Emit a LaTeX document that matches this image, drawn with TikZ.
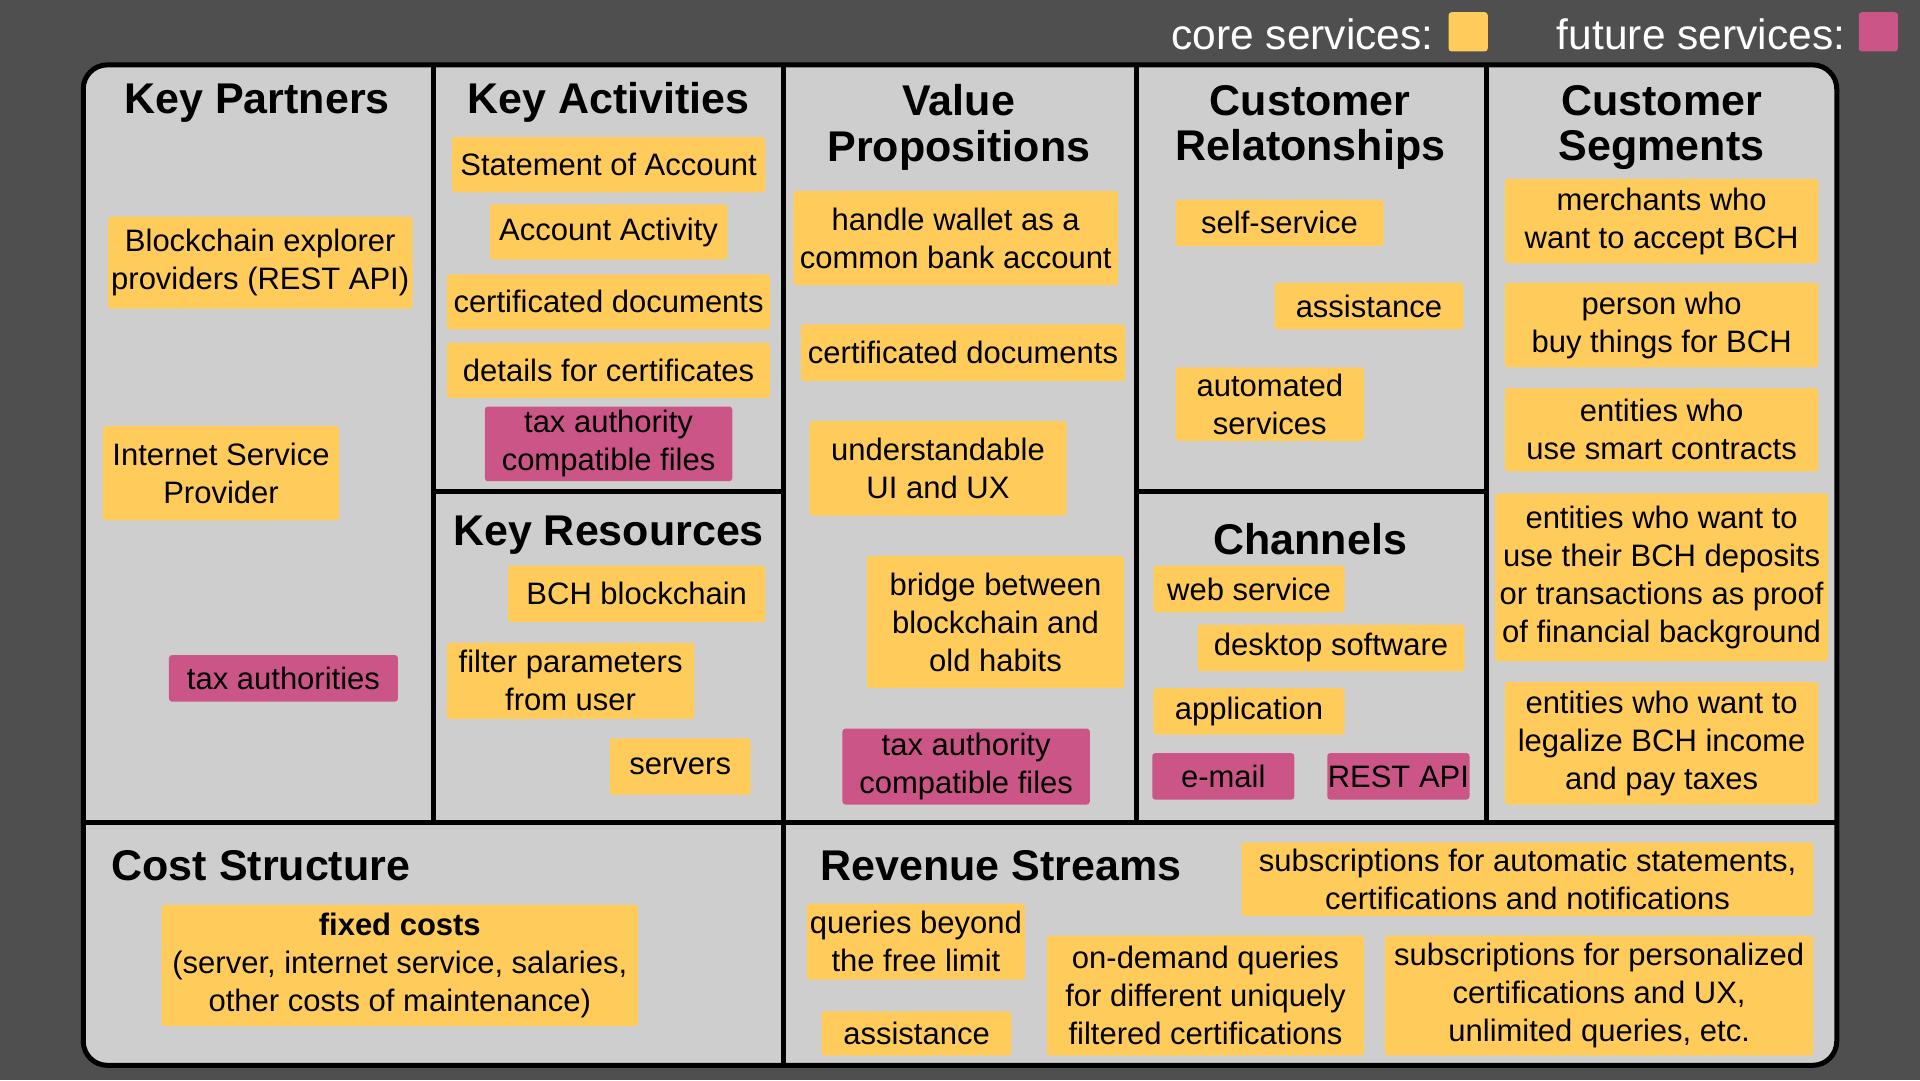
\documentclass[tikz,border=0pt]{standalone}
\usepackage{fontspec}
\setmainfont{Liberation Sans}
\definecolor{bgc}{RGB}{79,79,79}
\definecolor{panel}{RGB}{206,206,206}
\definecolor{corec}{RGB}{255,204,92}
\definecolor{futc}{RGB}{204,85,136}
\newcommand\card[7]{\node[#2, minimum width={(#5-(#3))*1.2245pt}, minimum height={(#6-(#4))*1.2245pt}] (#1) at ({(#3+#5)/2},{(#4+#6)/2}) {#7};}
\tikzset{
  cardbase/.style={rectangle, rounded corners=3pt, inner sep=0.5pt, align=center, text=black, font=\fontsize{31}{38}\selectfont},
  cs/.style={cardbase, fill=corec},
  fs/.style={cardbase, fill=futc},
  ttl/.style={inner sep=0pt, align=center, font=\bfseries\fontsize{43}{45.5}\selectfont},
  leg/.style={inner sep=0pt, text=white, font=\fontsize{42.5}{46}\selectfont},
  grid/.style={line width=5pt, black},
}
\begin{document}
\begin{tikzpicture}[x=1.2245pt,y=-1.2245pt]
\fill[bgc] (0,0) rectangle (1568,882);
\useasboundingbox (0,0) rectangle (1568,882);
% legend
\node[leg, anchor=east] (lcore) at (1171,28) {core services:};
\node[fill=corec, rounded corners=3pt, minimum width={32*1.2245pt}, minimum height={32*1.2245pt}, inner sep=0pt] (lcoresq) at (1199,26) {};
\node[leg, anchor=east] (lfut) at (1507,28) {future services:};
\node[fill=futc, rounded corners=3pt, minimum width={32*1.2245pt}, minimum height={32*1.2245pt}, inner sep=0pt] (lfutsq) at (1534,26) {};
% frame
\filldraw[grid, fill=panel, rounded corners=24pt] (68,53) rectangle (1500,870);
\draw[grid] (354,53) -- (354,672);
\draw[grid] (640,53) -- (640,870);
\draw[grid] (928,53) -- (928,672);
\draw[grid] (1214,53) -- (1214,672);
\draw[grid] (68,672) -- (1500,672);
\draw[grid] (354,401) -- (640,401);
\draw[grid] (928,401) -- (1214,401);
% titles
\node[ttl] (tkp) at (210,84) {Key Partners};
\node[ttl] (tka) at (497,84) {Key Activities};
\node[ttl] (tvp) at (783,104) {Value\\Propositions};
\node[ttl] (tcr) at (1070,104) {Customer\\Relatonships};
\node[ttl] (tcs) at (1357,104) {Customer\\Segments};
\node[ttl] (tkr) at (497,437) {Key Resources};
\node[ttl] (tch) at (1070,440) {Channels};
\node[ttl, anchor=west] (tcost) at (91,707) {Cost Structure};
\node[ttl, anchor=west] (trev) at (670,707) {Revenue Streams};
% key partners
\card{kp1}{cs}{88}{177}{337}{252}{Blockchain explorer\\providers (REST API)}
\card{kp2}{cs}{84}{348}{277}{425}{Internet Service\\Provider}
\card{kp3}{fs}{138}{535}{325}{573}{tax authorities}
% key activities
\card{ka1}{cs}{369}{112}{625}{157}{Statement of Account}
\card{ka2}{cs}{400}{167}{594}{212}{Account Activity}
\card{ka3}{cs}{365}{224}{629}{269}{certificated documents}
\card{ka4}{cs}{365}{280}{629}{325}{details for certificates}
\card{ka5}{fs}{396}{332}{598}{393}{tax authority\\compatible files}
% key resources
\card{kr1}{cs}{415}{462}{625}{508}{BCH blockchain}
\card{kr2}{cs}{365}{525}{567}{587}{filter parameters\\from user}
\card{kr3}{cs}{498}{603}{613}{649}{servers}
% value propositions
\card{vp1}{cs}{648}{156}{913}{233}{handle wallet as a\\common bank account}
\card{vp2}{cs}{654}{265}{919}{311}{certificated documents}
\card{vp3}{cs}{661}{344}{871}{421}{understandable\\UI and UX}
\card{vp4}{cs}{708}{454}{918}{562}{bridge between\\blockchain and\\old habits}
\card{vp5}{fs}{688}{595}{890}{657}{tax authority\\compatible files}
% customer relationships
\card{cr1}{cs}{960}{163}{1130}{201}{self-service}
\card{cr2}{cs}{1041}{231}{1195}{269}{assistance}
\card{cr3}{cs}{960}{300}{1114}{360}{automated\\services}
% channels
\card{ch1}{cs}{942}{462}{1098}{500}{web service}
\card{ch2}{cs}{978}{510}{1196}{548}{desktop software}
\card{ch3}{cs}{942}{562}{1098}{600}{application}
\card{ch4}{fs}{941}{615}{1057}{653}{e-mail}
\card{ch5}{fs}{1084}{615}{1200}{653}{REST API}
% customer segments
\card{cs1}{cs}{1229}{146}{1485}{215}{merchants who\\want to accept BCH}
\card{cs2}{cs}{1229}{231}{1485}{300}{person who\\buy things for BCH}
\card{cs3}{cs}{1229}{317}{1485}{385}{entities who\\use smart contracts}
\card{cs4}{cs}{1221}{403}{1493}{540}{entities who want to\\use their BCH deposits\\or transactions as proof\\of financial background}
\card{cs5}{cs}{1229}{557}{1485}{657}{entities who want to\\legalize BCH income\\and pay taxes}
% cost structure
\card{co1}{cs}{132}{739}{521}{838}{\textbf{fixed costs}\\(server, internet service, salaries,\\other costs of maintenance)}
% revenue streams
\card{rs1}{cs}{1014}{688}{1481}{748}{subscriptions for automatic statements,\\certifications and notifications}
\card{rs2}{cs}{659}{738}{837}{800}{queries beyond\\the free limit}
\card{rs3}{cs}{671}{826}{826}{862}{assistance}
\card{rs4}{cs}{855}{764}{1114}{862}{on-demand queries\\for different uniquely\\filtered certifications}
\card{rs5}{cs}{1131}{764}{1481}{862}{subscriptions for personalized\\certifications and UX,\\unlimited queries, etc.}
\end{tikzpicture}
\end{document}
